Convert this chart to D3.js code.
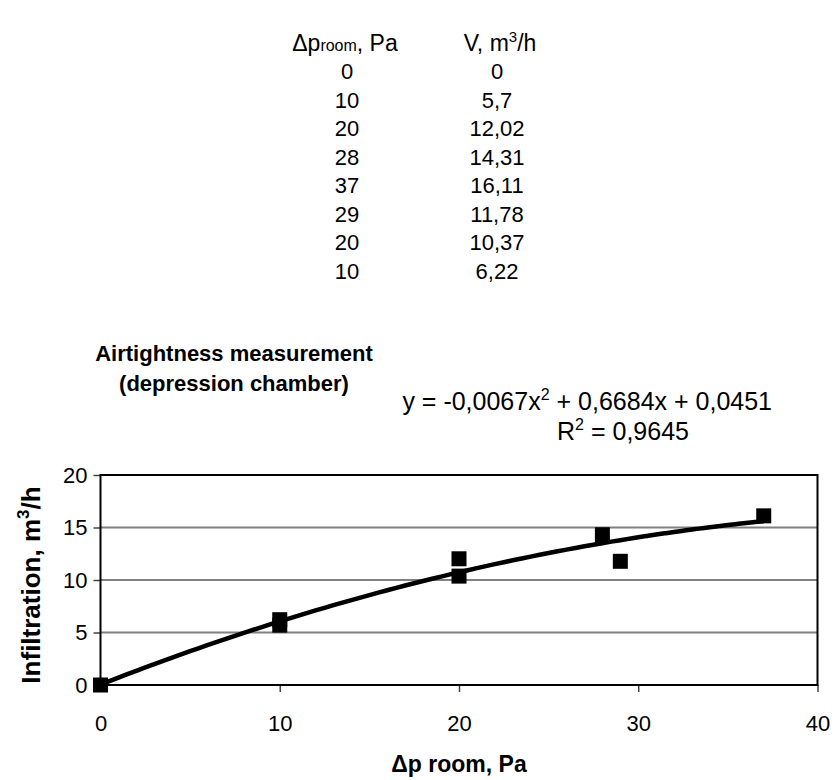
<!DOCTYPE html>
<html><head><meta charset="utf-8">
<script src="https://cdn.jsdelivr.net/npm/d3@7"></script>
<style>
body{margin:0;background:#fff}
svg{display:block}
text{font-family:"Liberation Sans",Arial,sans-serif;fill:#000}
</style>
</head><body>
<svg id="c" width="834" height="780"></svg>
<script>
const pressure = [0, 10, 20, 28, 37, 29, 20, 10];
const flow = [0, 5.7, 12.02, 14.31, 16.11, 11.78, 10.37, 6.22];
const pressureLabels = ["0", "10", "20", "28", "37", "29", "20", "10"];
const flowLabels = ["0", "5,7", "12,02", "14,31", "16,11", "11,78", "10,37", "6,22"];
const xTicks = [0, 10, 20, 30, 40];
const yTicks = [0, 5, 10, 15, 20];
const gridValues = [5, 10, 15];
const trendCoef = [-0.0067, 0.6684, 0.0451]; // a, b, c of displayed trendline
const trendRange = [0, 37];

const svg = d3.select("#c");
svg.append("rect").attr("width", 834).attr("height", 780).attr("fill", "#fff");

// ---- data table ----
const col1 = 347, col2 = 497, headY = 51, rowY0 = 79, rowStep = 28.5;
const hd1 = svg.append("text").attr("x", 345).attr("y", headY).attr("text-anchor", "middle").attr("font-size", 23);
hd1.append("tspan").text("\u0394p");
hd1.append("tspan").attr("font-size", 16).text("room");
hd1.append("tspan").text(", Pa");
const hd2 = svg.append("text").attr("x", 500).attr("y", headY).attr("text-anchor", "middle").attr("font-size", 23);
hd2.append("tspan").text("V, m");
hd2.append("tspan").attr("font-size", 15).attr("dy", -9).text("3");
hd2.append("tspan").attr("dy", 9).text("/h");

const rows = svg.append("g").selectAll("g").data(pressureLabels.map((p, i) => ({p, v: flowLabels[i], i})))
  .join("g");
rows.append("text").attr("x", col1).attr("y", d => rowY0 + d.i * rowStep).attr("text-anchor", "middle").attr("font-size", 22).text(d => d.p);
rows.append("text").attr("x", col2).attr("y", d => rowY0 + d.i * rowStep).attr("text-anchor", "middle").attr("font-size", 22).text(d => d.v);

// ---- title ----
const title = svg.append("text").attr("text-anchor", "middle").attr("font-size", 22).attr("font-weight", "bold");
title.append("tspan").attr("x", 234).attr("y", 361).text("Airtightness measurement");
title.append("tspan").attr("x", 234).attr("y", 391).text("(depression chamber)");

// ---- equation ----
const eq = svg.append("text").attr("x", 772).attr("y", 410).attr("text-anchor", "end").attr("font-size", 25);
eq.append("tspan").text("y = -0,0067x");
eq.append("tspan").attr("font-size", 16).attr("dy", -10).text("2");
eq.append("tspan").attr("dy", 10).text(" + 0,6684x + 0,0451");
const r2 = svg.append("text").attr("x", 623).attr("y", 440).attr("text-anchor", "middle").attr("font-size", 25);
r2.append("tspan").text("R");
r2.append("tspan").attr("font-size", 16).attr("dy", -10).text("2");
r2.append("tspan").attr("dy", 10).text(" = 0,9645");

// ---- plot ----
const x = d3.scaleLinear().domain([0, 40]).range([100.5, 817.5]);
const y = d3.scaleLinear().domain([0, 20]).range([685, 475]);

svg.append("g").selectAll("line").data(gridValues).join("line")
  .attr("x1", x(0)).attr("x2", x(40)).attr("y1", d => y(d)).attr("y2", d => y(d))
  .attr("stroke", "#808080").attr("stroke-width", 2);

const xAxis = svg.append("g").attr("transform", `translate(0,${y(0)})`)
  .call(d3.axisBottom(x).tickValues(xTicks).tickSize(7).tickPadding(23).tickFormat(d3.format("d")));
xAxis.select(".domain").remove();
xAxis.selectAll("line").attr("stroke", "#444").attr("stroke-width", 1.5);
xAxis.selectAll("text").attr("font-size", 22).attr("font-family", "Liberation Sans, Arial, sans-serif").attr("fill", "#000");

const yAxis = svg.append("g").attr("transform", `translate(${x(0)},0)`)
  .call(d3.axisLeft(y).tickValues(yTicks).tickSize(7).tickPadding(6).tickFormat(d3.format("d")));
yAxis.select(".domain").remove();
yAxis.selectAll("line").attr("stroke", "#444").attr("stroke-width", 1.5);
yAxis.selectAll("text").attr("font-size", 22).attr("font-family", "Liberation Sans, Arial, sans-serif").attr("fill", "#000");

// frame
svg.append("rect").attr("x", x(0)).attr("y", y(20)).attr("width", x(40) - x(0)).attr("height", y(0) - y(20))
  .attr("fill", "none").attr("stroke", "#000").attr("stroke-width", 2);

// trendline from the displayed polynomial coefficients
const tx = d3.range(trendRange[0], trendRange[1] + 0.01, 0.5);
const line = d3.line().x(d => x(d)).y(d => y(trendCoef[0] * d * d + trendCoef[1] * d + trendCoef[2])).curve(d3.curveMonotoneX);
svg.append("path").datum(tx).attr("d", line).attr("fill", "none").attr("stroke", "#000").attr("stroke-width", 4.5);

// markers
const ms = 15;
svg.append("g").selectAll("rect").data(pressure.map((p, i) => [p, flow[i]])).join("rect")
  .attr("x", d => x(d[0]) - ms / 2).attr("y", d => y(d[1]) - ms / 2)
  .attr("width", ms).attr("height", ms).attr("fill", "#000");

// axis titles
const xt = svg.append("text").attr("x", 459).attr("y", 772).attr("text-anchor", "middle").attr("font-size", 23).attr("font-weight", "bold");
xt.text("\u0394p room, Pa");
const yt = svg.append("text").attr("transform", `translate(40,585) rotate(-90)`).attr("text-anchor", "middle").attr("font-size", 26).attr("font-weight", "bold");
yt.append("tspan").text("Infiltration, m");
yt.append("tspan").attr("font-size", 17).attr("dy", -11).text("3");
yt.append("tspan").attr("dy", 11).text("/h");
</script>
</body></html>
